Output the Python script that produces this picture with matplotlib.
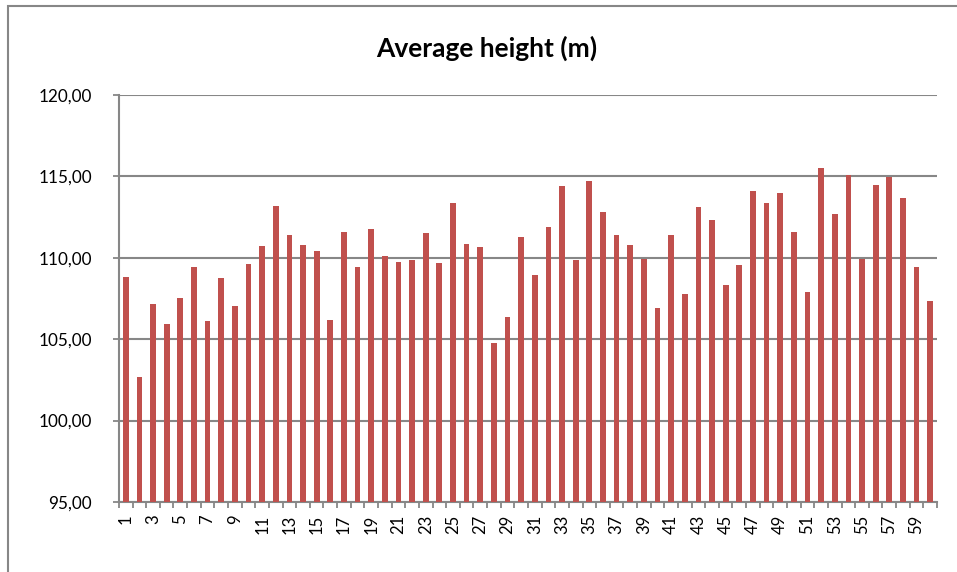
import matplotlib
matplotlib.use("Agg")
import matplotlib.pyplot as plt
from matplotlib.patches import Rectangle
from matplotlib.ticker import FixedLocator, FuncFormatter

plt.rcParams["font.family"] = ["Lato", "DejaVu Sans"]

# category numbers and average heights (m)
categories = list(range(1, 61))
heights = [
    108.83, 102.70, 107.14, 105.95, 107.51, 109.45, 106.10, 108.75, 107.02, 109.60,
    110.72, 113.19, 111.41, 110.76, 110.41, 106.16, 111.56, 109.43, 111.74, 110.12,
    109.74, 109.84, 111.50, 109.66, 113.35, 110.82, 110.64, 104.77, 106.36, 111.27,
    108.92, 111.88, 114.38, 109.86, 114.69, 112.80, 111.39, 110.76, 109.92, 106.92,
    111.37, 107.77, 113.15, 112.31, 108.33, 109.53, 114.08, 113.35, 114.00, 111.56,
    107.89, 115.49, 112.69, 115.06, 109.92, 114.50, 114.94, 113.68, 109.43, 107.35,
]
y_ticks = [95, 100, 105, 110, 115, 120]
title = "Average height (m)"

grey = "#878787"

fig = plt.figure(figsize=(9.57, 5.72), dpi=100)
ax = fig.add_axes([0.1243, 0.1224, 0.9791 - 0.1243, 0.8339 - 0.1224])

ax.bar(categories, heights, width=0.42, color="#C0504D", zorder=3)

ax.set_xlim(0.5, 60.5)
ax.set_ylim(95, 120)
ax.set_yticks(y_ticks)
ax.yaxis.set_major_formatter(FuncFormatter(lambda v, p: f"{v:.2f}".replace(".", ",")))
ax.grid(axis="y", color=grey, linewidth=1.5, zorder=0)

# labels on odd categories, tick marks on category boundaries
ax.set_xticks(categories[::2])
ax.set_xticklabels([str(c) for c in categories[::2]], rotation=90)
ax.xaxis.set_minor_locator(FixedLocator([c + 0.5 for c in range(0, 61)]))
ax.tick_params(axis="x", which="major", length=0, pad=9, labelsize=12)
ax.tick_params(axis="x", which="minor", length=4, width=1.3, color=grey, direction="out")
ax.tick_params(axis="y", length=4.5, width=1.3, color=grey, labelsize=12.3, pad=15)

for s in ["top", "right"]:
    ax.spines[s].set_visible(False)
for s in ["left", "bottom"]:
    ax.spines[s].set_color(grey)
    ax.spines[s].set_linewidth(1.5)

fig.text(0.509, 0.916, title, ha="center", va="center", fontsize=19, fontweight="bold")

# chart border
fig.patches.append(Rectangle((0.0084, -0.1), 2, 0.9895 + 0.1, transform=fig.transFigure,
                             fill=False, edgecolor=grey, linewidth=1.5))

fig.savefig("out.png", dpi=100)
